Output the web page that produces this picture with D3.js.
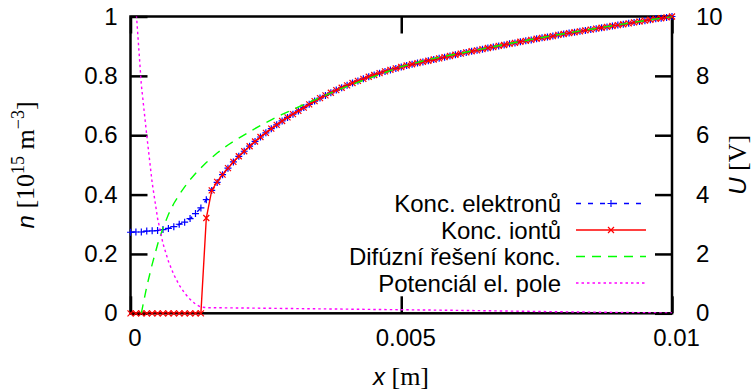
<!DOCTYPE html>
<html>
<head>
<meta charset="utf-8">
<script src="https://cdn.jsdelivr.net/npm/d3@7"></script>
<style>
  body { margin: 0; background: #fff; }
  svg text { font-family: "Liberation Sans", Arial, sans-serif; }
</style>
</head>
<body>
<svg id="chart" width="753" height="392"></svg>
<script>
// sampling step of the simulated profiles [m]
const xStep = 0.0001;

// electron concentration [1e15 m^-3], one value per grid point
const electrons = [
  0.273, 0.274, 0.274, 0.277, 0.278, 0.279, 0.282, 0.286, 0.292, 0.300,
  0.307, 0.319, 0.336, 0.355, 0.383, 0.414, 0.441, 0.467, 0.489, 0.510,
  0.529, 0.546, 0.563, 0.579, 0.594, 0.608, 0.622, 0.635, 0.648, 0.660,
  0.671, 0.682, 0.693, 0.704, 0.715, 0.725, 0.734, 0.743, 0.752, 0.760,
  0.768, 0.776, 0.783, 0.790, 0.797, 0.803, 0.809, 0.815, 0.820, 0.825,
  0.830, 0.835, 0.839, 0.843, 0.847, 0.851, 0.855, 0.859, 0.863, 0.867,
  0.871, 0.875, 0.879, 0.883, 0.886, 0.890, 0.894, 0.897, 0.901, 0.904,
  0.908, 0.911, 0.915, 0.918, 0.921, 0.925, 0.928, 0.931, 0.934, 0.938,
  0.941, 0.944, 0.947, 0.950, 0.953, 0.956, 0.959, 0.962, 0.965, 0.968,
  0.971, 0.974, 0.977, 0.980, 0.983, 0.986, 0.989, 0.992, 0.994, 0.997,
  1.000
];

// ion concentration [1e15 m^-3]
const ions = [
  0, 0, 0, 0, 0, 0, 0, 0, 0, 0,
  0, 0, 0, 0, 0.321, 0.414, 0.443, 0.467, 0.489, 0.510,
  0.529, 0.546, 0.563, 0.579, 0.594, 0.608, 0.622, 0.635, 0.648, 0.660,
  0.671, 0.682, 0.693, 0.704, 0.715, 0.725, 0.734, 0.743, 0.752, 0.760,
  0.768, 0.776, 0.783, 0.790, 0.797, 0.803, 0.809, 0.815, 0.820, 0.825,
  0.830, 0.835, 0.839, 0.843, 0.847, 0.851, 0.855, 0.859, 0.863, 0.867,
  0.871, 0.875, 0.879, 0.883, 0.886, 0.890, 0.894, 0.897, 0.901, 0.904,
  0.908, 0.911, 0.915, 0.918, 0.921, 0.925, 0.928, 0.931, 0.934, 0.938,
  0.941, 0.944, 0.947, 0.950, 0.953, 0.956, 0.959, 0.962, 0.965, 0.968,
  0.971, 0.974, 0.977, 0.980, 0.983, 0.986, 0.989, 0.992, 0.994, 0.997,
  1.000
];

// diffusion solution
const diffX = [
  0.0002, 0.0003, 0.0004, 0.0005, 0.0006, 0.0007, 0.0008, 0.0009, 0.0010, 0.0011,
  0.0012, 0.0013, 0.0014, 0.0015, 0.0016, 0.0017, 0.0018, 0.0019, 0.0020, 0.0022,
  0.0024, 0.0026, 0.0028, 0.0030, 0.0032, 0.0035, 0.0038, 0.0041, 0.0045, 0.0050,
  0.0055, 0.0060, 0.0065, 0.0070, 0.0075, 0.0080, 0.0085, 0.0090, 0.0095, 0.0100
];
const diffN = [
  0.000, 0.090, 0.165, 0.232, 0.288, 0.333, 0.370, 0.400, 0.426, 0.450,
  0.471, 0.490, 0.508, 0.524, 0.540, 0.554, 0.567, 0.579, 0.590, 0.612,
  0.633, 0.652, 0.670, 0.687, 0.703, 0.727, 0.750, 0.772, 0.798, 0.831,
  0.855, 0.873, 0.891, 0.909, 0.926, 0.942, 0.957, 0.972, 0.986, 1.000
];

// electric potential [V] (right axis)
const potX = [
  0, 0.0001, 0.0002, 0.0003, 0.0004, 0.0005, 0.0006, 0.0007, 0.0008, 0.0009,
  0.0010, 0.0011, 0.0012, 0.0013, 0.0014, 0.0020, 0.0040, 0.0060, 0.0080, 0.0100
];
const potU = [
  13.0, 10.3, 7.7, 6.0, 4.4, 3.2, 2.35, 1.75, 1.3, 0.95,
  0.68, 0.47, 0.31, 0.21, 0.19, 0.18, 0.14, 0.10, 0.05, 0.01
];

const xTicks = [0, 0.005, 0.01];
const yTicks = [0, 0.2, 0.4, 0.6, 0.8, 1];
const y2Ticks = [0, 2, 4, 6, 8, 10];
const legendLabels = ['Konc. elektronů', 'Konc. iontů', 'Difúzní řešení konc.', 'Potenciál el. pole'];

const plot = { left: 130.5, right: 672, top: 16.5, bottom: 313.3 };
const tickLen = 17;
const fontSize = 24;

const svg = d3.select('#chart');

const x = d3.scaleLinear().domain([0, 0.01]).range([plot.left, plot.right]);
const y = d3.scaleLinear().domain([0, 1]).range([plot.bottom, plot.top]);
const y2 = d3.scaleLinear().domain([0, 10]).range([plot.bottom, plot.top]);

svg.append('defs').append('clipPath').attr('id', 'plot-clip')
  .append('rect')
  .attr('x', plot.left).attr('y', plot.top)
  .attr('width', plot.right - plot.left).attr('height', plot.bottom - plot.top);

const fmt = d3.format('~g');

function styleAxis(g) {
  g.select('.domain').remove();
  g.selectAll('.tick line').attr('stroke', '#000').attr('stroke-width', 2.5);
  g.selectAll('.tick text').attr('font-size', fontSize).attr('fill', '#000')
    .attr('font-family', '"Liberation Sans", Arial, sans-serif');
}

// axes (ticks point inwards)
svg.append('g')
  .attr('transform', `translate(${plot.left},0)`)
  .call(d3.axisLeft(y).tickValues(yTicks).tickFormat(fmt).tickSizeInner(-tickLen).tickSizeOuter(0).tickPadding(13))
  .call(styleAxis);

svg.append('g')
  .attr('transform', `translate(${plot.right},0)`)
  .call(d3.axisRight(y2).tickValues(y2Ticks).tickFormat(fmt).tickSizeInner(-tickLen).tickSizeOuter(0).tickPadding(24))
  .call(styleAxis);

svg.append('g')
  .attr('transform', `translate(0,${plot.bottom})`)
  .call(d3.axisBottom(x).tickValues(xTicks).tickFormat(fmt).tickSizeInner(-tickLen).tickSizeOuter(0).tickPadding(16))
  .call(styleAxis)
  .call(g => g.selectAll('.tick text').attr('dx', 4));

svg.append('g')
  .attr('transform', `translate(0,${plot.top})`)
  .call(d3.axisTop(x).tickValues(xTicks).tickFormat('').tickSizeInner(-tickLen).tickSizeOuter(0))
  .call(styleAxis);

// border
svg.append('rect')
  .attr('x', plot.left).attr('y', plot.top)
  .attr('width', plot.right - plot.left).attr('height', plot.bottom - plot.top)
  .attr('fill', 'none').attr('stroke', '#000').attr('stroke-width', 2.5);

// axis titles
const serif = '"Liberation Serif", "DejaVu Serif", serif';

const xTitle = svg.append('text')
  .attr('x', 401).attr('y', 385)
  .attr('text-anchor', 'middle').attr('font-size', fontSize);
xTitle.append('tspan').attr('font-style', 'italic').text('x');
xTitle.append('tspan').attr('font-family', serif).attr('font-size', 26).text(' [m]');

const yTitle = svg.append('text')
  .attr('transform', `translate(34,${(plot.top + plot.bottom) / 2}) rotate(-90)`)
  .attr('text-anchor', 'middle').attr('font-size', fontSize);
yTitle.append('tspan').attr('font-style', 'italic').text('n');
yTitle.append('tspan').attr('font-family', serif).attr('font-size', 26).text(' [10');
yTitle.append('tspan').attr('font-family', serif).attr('font-size', 18).attr('dy', -10).text('15');
yTitle.append('tspan').attr('font-family', serif).attr('font-size', 26).attr('dy', 10).text(' m');
yTitle.append('tspan').attr('font-family', serif).attr('font-size', 18).attr('dy', -10).text('−3');
yTitle.append('tspan').attr('font-family', serif).attr('font-size', 26).attr('dy', 10).text(']');

const y2Title = svg.append('text')
  .attr('transform', `translate(746,${(plot.top + plot.bottom) / 2}) rotate(-90)`)
  .attr('text-anchor', 'middle').attr('font-size', fontSize);
y2Title.append('tspan').attr('font-style', 'italic').text('U');
y2Title.append('tspan').attr('font-family', serif).attr('font-size', 26).text(' [V]');

// series
const grid = d3.range(electrons.length).map(i => i * xStep);
const plus = 'M-3.5,0H3.5M0,-3.5V3.5';
const cross = 'M-3,-3L3,3M-3,3L3,-3';

const series = [
  { label: legendLabels[0], xs: grid, ys: electrons, scale: y, color: '#0000ff', dash: '5,7', marker: plus },
  { label: legendLabels[1], xs: grid, ys: ions, scale: y, color: '#ff0000', dash: null, marker: cross },
  { label: legendLabels[2], xs: diffX, ys: diffN, scale: y, color: '#00ff00', dash: '9,7', marker: null },
  { label: legendLabels[3], xs: potX, ys: potU, scale: y2, color: '#ff00ff', dash: '2.5,3', marker: null }
];

const data = svg.append('g');

series.forEach(s => {
  const pts = s.xs.map((xv, i) => [xv, s.ys[i]]);
  const line = d3.line().x(d => x(d[0])).y(d => s.scale(d[1]));
  data.append('path')
    .datum(pts)
    .attr('clip-path', 'url(#plot-clip)')
    .attr('d', line)
    .attr('fill', 'none')
    .attr('stroke', s.color)
    .attr('stroke-width', 1.4)
    .attr('stroke-dasharray', s.dash);
  if (s.marker) {
    data.append('g').selectAll('path')
      .data(pts)
      .join('path')
      .attr('transform', d => `translate(${x(d[0])},${s.scale(d[1])})`)
      .attr('d', s.marker)
      .attr('fill', 'none')
      .attr('stroke', s.color)
      .attr('stroke-width', 1.2);
  }
});

// key
const key = svg.append('g');
const keyRowY = [203.5, 230, 256.5, 283];
series.forEach((s, i) => {
  const row = key.append('g').attr('transform', `translate(0,${keyRowY[i]})`);
  row.append('text')
    .attr('x', 561).attr('y', 8.5)
    .attr('text-anchor', 'end').attr('font-size', fontSize)
    .text(s.label);
  row.append('line')
    .attr('x1', 576).attr('x2', 646)
    .attr('stroke', s.color).attr('stroke-width', 1.4)
    .attr('stroke-dasharray', s.dash);
  if (s.marker) {
    row.append('path')
      .attr('transform', 'translate(611,0)')
      .attr('d', s.marker)
      .attr('fill', 'none').attr('stroke', s.color).attr('stroke-width', 1.2);
  }
});
</script>
</body>
</html>
